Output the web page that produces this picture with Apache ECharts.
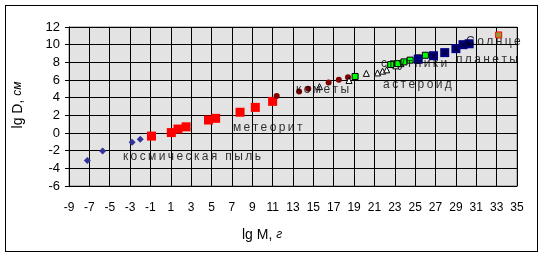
<!DOCTYPE html>
<html>
<head>
<meta charset="utf-8">
<script src="https://cdn.jsdelivr.net/npm/echarts@6/dist/echarts.min.js"></script>
<style>
  html, body { margin: 0; padding: 0; background: #fff; }
  #wrap { position: relative; width: 544px; height: 258px; }
  #chart { width: 544px; height: 258px; }
  #frame { position: absolute; left: 5px; top: 5px; width: 531px; height: 245px; border: 1px solid #000; pointer-events: none; }
  #err { position: absolute; left: 8px; top: 8px; font: 10px sans-serif; color: red; }
</style>
</head>
<body>
<div id="wrap">
  <div id="chart"></div>
  <div id="frame"></div>
  <div id="err"></div>
</div>
<script>
window.onerror = function (m) { document.getElementById('err').textContent += ' | ' + m; };

// lg M (г) / lg D (см) for each group of bodies
const dustM = [-7.2, -5.7, -2.8, -2.0];
const dustD = [-3.1, -2.05, -1.05, -0.72];

const meteorM = [-0.9, 1.05, 1.7, 2.5, 4.7, 5.4, 7.8, 9.3, 11.0];
const meteorD = [-0.35, 0.05, 0.45, 0.7, 1.47, 1.66, 2.35, 2.9, 3.58];

const cometM = [11.4, 13.6, 14.5, 16.5, 17.5, 18.4];
const cometD = [4.2, 4.7, 5.0, 5.73, 6.03, 6.3];

const asteroidM = [15.6, 18.5, 20.2, 21.3, 21.8, 22.2, 23.1, 23.6];
const asteroidD = [5.25, 5.95, 6.75, 6.8, 7.0, 7.15, 7.6, 7.85];

const satelliteM = [19.1, 22.6, 23.3, 23.9, 24.5, 25.3, 26.0];
const satelliteD = [6.4, 7.75, 7.85, 8.05, 8.25, 8.5, 8.8];

const planetM = [25.3, 26.8, 27.9, 29.0, 29.7, 30.3];
const planetD = [8.35, 8.75, 9.1, 9.55, 10.0, 10.1];

const crossM = [26.8, 27.9, 29.0, 29.7, 30.2];
const crossD = [8.75, 9.1, 9.55, 10.0, 10.05];

const sunM = [33.2];
const sunD = [11.1];

const labelNames = ['космическая пыль', 'метеорит', 'кометы', 'спутники', 'астероид', 'планеты', 'Солнце'];
const labelM = [-3.7, 7.1, 13.3, 21.65, 21.85, 29.0, 30.0];
const labelD = [-2.72, 0.56, 4.87, 7.8, 5.43, 8.26, 10.3];

// x tick labels run -9, -7 ... 35
const xMin = -9;
const xMax = 35;
const xStep = 2;

function pts(xs, ys) {
  return xs.map((x, i) => [x, ys[i]]);
}

// the old chart prints its notes with wide letter spacing
function spaced(s) {
  return s.split('').join('\u2009');
}

const chart = echarts.init(document.getElementById('chart'));
const fontFam = '"Liberation Sans", Arial, sans-serif';
const titleRich = {
  a: { fontFamily: fontFam, fontSize: 14, fill: '#000' },
  b: { fontFamily: fontFam, fontSize: 12, fontStyle: 'italic', fill: '#000' }
};

const option = {
  animation: false,
  graphic: [
    {
      type: 'text',
      x: 262, y: 235,
      silent: true,
      style: { text: '{a|lg M, }{b|г}', rich: titleRich, align: 'center', verticalAlign: 'middle' }
    },
    {
      type: 'text',
      x: 18, y: 105,
      rotation: Math.PI / 2,
      silent: true,
      style: { text: '{a|lg D, }{b|см}', rich: titleRich, align: 'center', verticalAlign: 'middle' }
    }
  ],
  grid: {
    left: 69, right: 27, top: 27, bottom: 72,
    show: true,
    backgroundColor: '#e3e3e3',
    borderColor: '#808080'
  },
  xAxis: [
    {
      // data axis (true lg M values)
      type: 'value',
      min: xMin, max: xMax,
      axisLine: { onZero: false, lineStyle: { color: '#000' } },
      axisTick: { show: false },
      axisLabel: { show: false },
      splitLine: { show: false }
    },
    {
      // tick/grid axis counted from the left edge, labelled back in lg M
      type: 'value',
      position: 'bottom',
      min: 0, max: xMax - xMin, interval: xStep,
      axisLine: { show: false },
      axisTick: { show: true, length: 4, lineStyle: { color: '#000' } },
      axisLabel: {
        margin: 16, fontFamily: fontFam, fontSize: 12, color: '#000',
        formatter: v => String(v + xMin)
      },
      splitLine: { show: true, lineStyle: { color: '#000' } }
    }
  ],
  yAxis: {
    type: 'value',
    min: -6, max: 12, interval: 2,
    axisLine: { show: true, onZero: false, lineStyle: { color: '#000' } },
    axisTick: { show: true, length: 4, lineStyle: { color: '#000' } },
    axisLabel: { margin: 9, fontFamily: fontFam, fontSize: 13, color: '#000' },
    splitLine: { show: true, lineStyle: { color: '#000' } }
  },
  series: [
    {
      name: 'labels',
      type: 'scatter',
      symbolSize: 0,
      silent: true,
      data: labelM.map((x, i) => [x, labelD[i], spaced(labelNames[i])]),
      label: {
        show: true,
        position: 'right',
        distance: 0,
        formatter: p => p.data[2],
        fontFamily: fontFam,
        fontSize: 12,
        color: '#000'
      }
    },
    {
      name: 'космическая пыль',
      type: 'scatter',
      symbol: 'diamond',
      symbolSize: 7,
      itemStyle: { color: '#333399', opacity: 1 },
      data: pts(dustM, dustD)
    },
    {
      name: 'метеорит',
      type: 'scatter',
      symbol: 'rect',
      symbolSize: 9,
      itemStyle: { color: '#ff0000', opacity: 1 },
      data: pts(meteorM, meteorD)
    },
    {
      name: 'кометы',
      type: 'scatter',
      symbol: 'circle',
      symbolSize: 6,
      itemStyle: { color: '#800000', opacity: 1 },
      data: pts(cometM, cometD)
    },
    {
      name: 'астероид',
      type: 'scatter',
      symbol: 'triangle',
      symbolSize: 6,
      itemStyle: { color: '#fff', borderColor: '#000', borderWidth: 1, opacity: 1 },
      data: pts(asteroidM, asteroidD)
    },
    {
      name: 'спутники',
      type: 'scatter',
      symbol: 'rect',
      symbolSize: 6,
      itemStyle: { color: '#00ff00', borderColor: '#000', borderWidth: 1, opacity: 1 },
      data: pts(satelliteM, satelliteD)
    },
    {
      name: 'планеты',
      type: 'scatter',
      symbol: 'rect',
      symbolSize: 9,
      itemStyle: { color: '#000080', opacity: 1 },
      data: pts(planetM, planetD)
    },
    {
      name: 'planet marks',
      type: 'scatter',
      symbol: 'path://M0,0L1,0L5,4L9,0L10,0L10,1L6,5L10,9L10,10L9,10L5,6L1,10L0,10L0,9L4,5L0,1Z',
      symbolSize: 5,
      itemStyle: { color: '#000', opacity: 1 },
      data: pts(crossM, crossD)
    },
    {
      name: 'Солнце',
      type: 'scatter',
      symbol: 'rect',
      symbolSize: 6,
      itemStyle: { color: '#999933', borderColor: '#ff0000', borderWidth: 1, opacity: 1 },
      data: pts(sunM, sunD)
    }
  ]
};

chart.setOption(option);
</script>
</body>
</html>
